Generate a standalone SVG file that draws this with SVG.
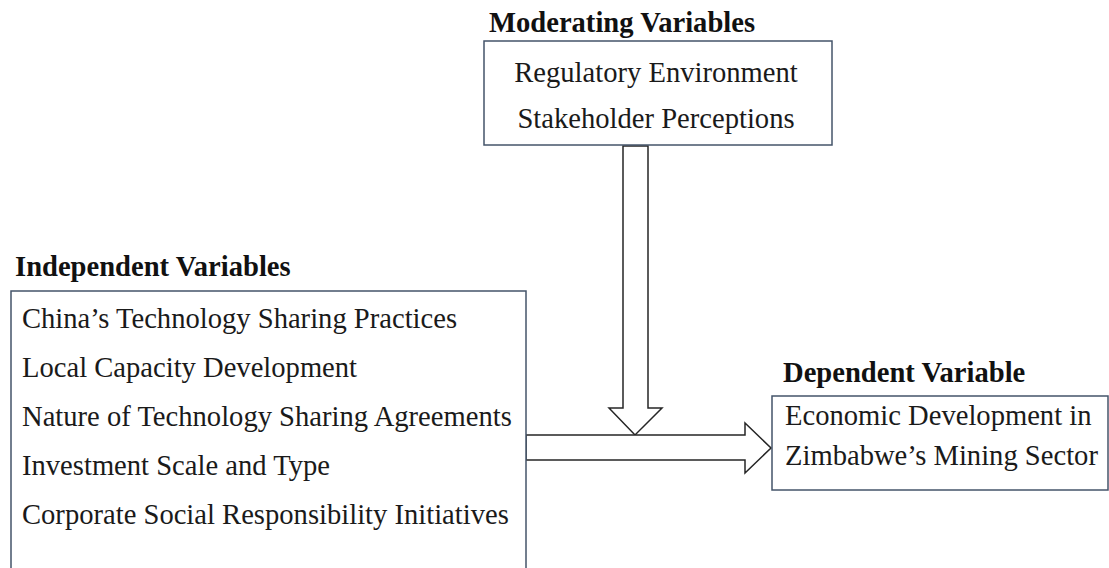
<svg xmlns="http://www.w3.org/2000/svg" width="1109" height="568" viewBox="0 0 1109 568">
<style>
.box{fill:#fff;stroke:#44546a;stroke-width:1.5}
.t{font-family:"Liberation Serif","Times New Roman",serif;font-size:28.6px;fill:#1a1a1a}
.h{font-family:"Liberation Serif","Times New Roman",serif;font-size:28.6px;font-weight:bold;fill:#111}
.arr{fill:#fff;stroke:#262626;stroke-width:1.5;stroke-linejoin:miter}
</style>
<rect width="1109" height="568" fill="#fff"/>
<g id="connectors">
<polygon class="arr" points="623,146 648,146 648,408 662,408 635,435 609,408 623,408"/>
<polygon class="arr" points="526,435 745,435 745,423 771,448 745,473 745,460 526,460"/>
</g>
<g id="moderating">
<text class="h" x="489" y="32">Moderating Variables</text>
<rect class="box" x="484" y="41" width="348" height="104"/>
<text class="t" x="656" y="82" text-anchor="middle">Regulatory Environment</text>
<text class="t" x="656" y="128" text-anchor="middle">Stakeholder Perceptions</text>
</g>
<g id="independent">
<text class="h" x="15" y="276">Independent Variables</text>
<rect class="box" x="11" y="291" width="515" height="290"/>
<text class="t" x="22" y="328">China’s Technology Sharing Practices</text>
<text class="t" x="22" y="377">Local Capacity Development</text>
<text class="t" x="22" y="426">Nature of Technology Sharing Agreements</text>
<text class="t" x="22" y="475">Investment Scale and Type</text>
<text class="t" x="22" y="524">Corporate Social Responsibility Initiatives</text>
</g>
<g id="dependent">
<text class="h" x="783" y="382">Dependent Variable</text>
<rect class="box" x="772" y="396" width="336" height="94"/>
<text class="t" x="785" y="425">Economic Development in</text>
<text class="t" x="785" y="465">Zimbabwe’s Mining Sector</text>
</g>
</svg>
